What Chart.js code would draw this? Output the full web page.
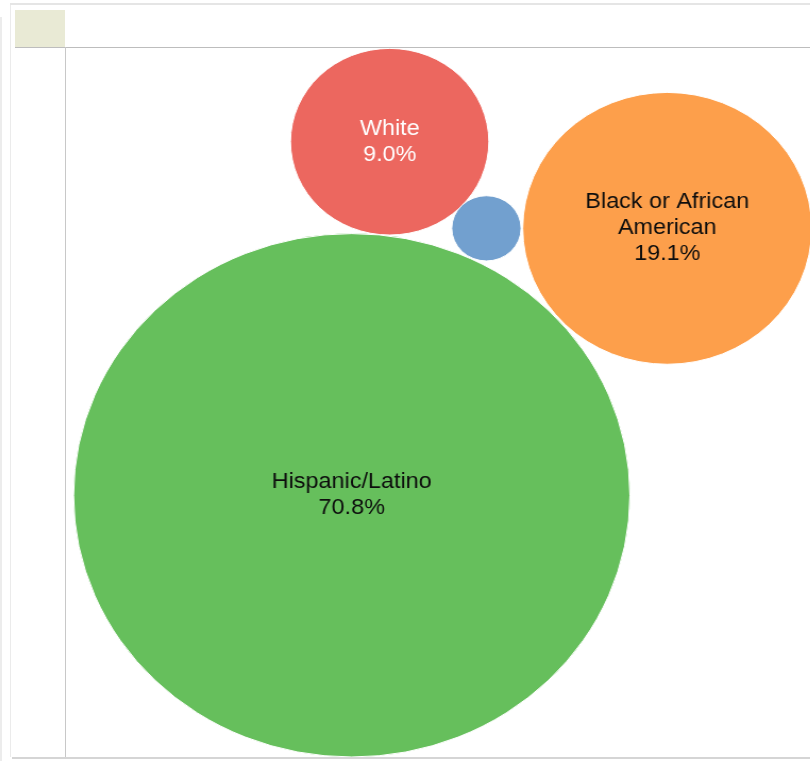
<!DOCTYPE html>
<html>
<head>
<meta charset="utf-8">
<script src="https://cdn.jsdelivr.net/npm/chart.js@4/dist/chart.umd.min.js"></script>
<style>
html, body { margin: 0; padding: 0; background: #fff; width: 810px; height: 761px; overflow: hidden; }
#page { position: relative; width: 810px; height: 761px; }
.ln { position: absolute; }
/* the bubbles in the original are a little wider than tall */
#wrap { position: absolute; left: 66px; top: 48px; width: 700px; height: 710px;
        transform: scaleX(1.063); transform-origin: 0 0; }
</style>
</head>
<body>
<div id="page">
  <div class="ln" style="left:10px;top:3px;width:800px;height:2px;background:#e5e5e5"></div>
  <div class="ln" style="left:0;top:17px;width:2px;height:744px;background:#ececec"></div>
  <div class="ln" style="left:10px;top:5px;width:1px;height:752px;background:#ebebeb"></div>
  <div class="ln" style="left:15px;top:10px;width:50px;height:37px;background:#e9ead5"></div>
  <div class="ln" style="left:15px;top:47px;width:795px;height:1px;background:#bdbdbd"></div>
  <div class="ln" style="left:65px;top:47px;width:1px;height:711px;background:#c8c8c8"></div>
  <div id="wrap"><canvas id="myBubble"></canvas></div>
  <div class="ln" style="left:12px;top:757px;width:798px;height:2px;background:#d5d5d5"></div>
</div>
<script>
// race / ethnicity shares, packed bubbles (area ~ share)
var categories = ['Hispanic/Latino', 'Black or African American', 'White', 'Other'];
var shares = [70.8, 19.1, 9.0, 1.1];
// where each bubble sits in the packing (0-100 on both axes)
var posX = [38.4, 80.8, 43.5, 56.5];
var posY = [37.0, 74.6, 86.8, 74.6];

var fills = ['#66bf5c', '#fd9f4b', '#ec675f', '#72a0cf'];
var textColors = ['#0d0d0d', '#0d0d0d', '#fff', '#fff'];
var sizeK = 31.1;   // px of radius per sqrt(percent)

var points = [];
for (var i = 0; i < shares.length; i++) {
    points.push({ x: posX[i], y: posY[i], r: sizeK * Math.sqrt(shares[i]) });
}

function wrapWords(ctx, text, maxW) {
    var words = text.split(' ');
    var lines = [];
    var cur = '';
    words.forEach(function (w) {
        var test = cur ? cur + ' ' + w : w;
        if (cur && ctx.measureText(test).width > maxW) {
            lines.push(cur);
            cur = w;
        } else {
            cur = test;
        }
    });
    if (cur) lines.push(cur);
    return lines;
}

var bubbleLabels = {
    id: 'bubbleLabels',
    afterDatasetsDraw: function (chart) {
        var ctx = chart.ctx;
        var meta = chart.getDatasetMeta(0);
        ctx.save();
        ctx.font = '22px "Liberation Sans", Arial, sans-serif';
        ctx.textAlign = 'center';
        ctx.textBaseline = 'middle';
        meta.data.forEach(function (pt, i) {
            var r = pt.options.radius;
            if (r < 50) return;   // too small for a label
            var lines = wrapWords(ctx, categories[i], r * 1.3);
            lines.push(shares[i].toFixed(1) + '%');
            var lh = 26;
            var y0 = pt.y - (lines.length - 1) * lh / 2;
            ctx.fillStyle = textColors[i];
            lines.forEach(function (s, j) {
                ctx.fillText(s, pt.x, y0 + j * lh);
            });
        });
        ctx.restore();
    }
};

var ctx = document.getElementById('myBubble').getContext('2d');
var myChart = new Chart(ctx, {
    type: 'bubble',
    data: {
        labels: categories,
        datasets: [{
            data: points,
            backgroundColor: fills,
            borderColor: '#ffffff',
            borderWidth: 1,
            clip: false
        }]
    },
    options: {
        responsive: true,
        maintainAspectRatio: false,
        animation: false,
        layout: { autoPadding: false, padding: 0 },
        plugins: {
            legend: { display: false },
            tooltip: { enabled: false }
        },
        scales: {
            x: { type: 'linear', min: 0, max: 100, display: false },
            y: { type: 'linear', min: 0, max: 100, display: false }
        }
    },
    plugins: [bubbleLabels]
});
</script>
</body>
</html>
